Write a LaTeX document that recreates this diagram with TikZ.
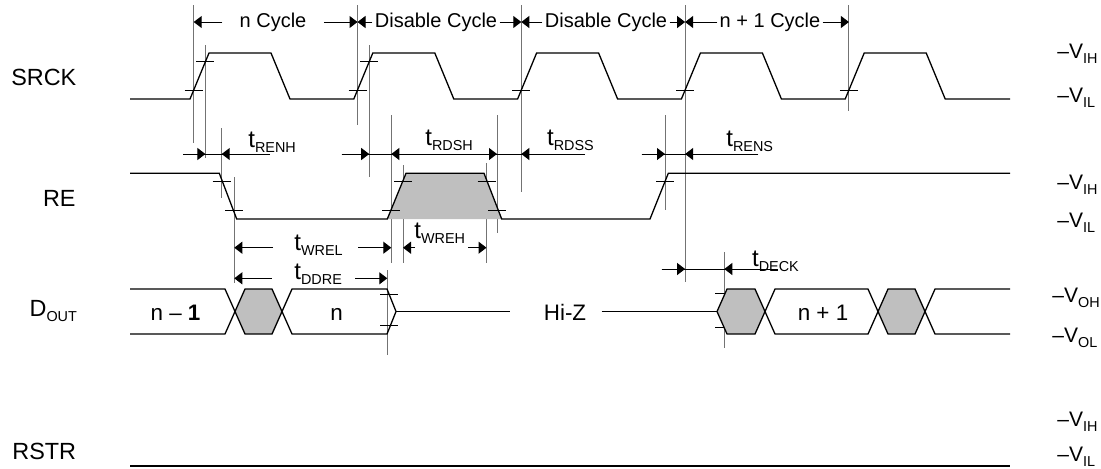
\documentclass[tikz,border=0pt]{standalone}
\usepackage{fontspec}
\setmainfont{Liberation Sans}
\usetikzlibrary{arrows.meta}
\newcommand{\lo}[1]{\raisebox{-2.5pt}{\fontsize{7.2}{8}\selectfont #1}}

\begin{document}
\begin{tikzpicture}[x=.5pt,y=-.5pt,
  wave/.style={black,line width=.65pt,line join=miter},
  guide/.style={black!55,line width=.5pt},
  tic/.style={black,line width=.5pt},
  dim/.style={black,line width=.5pt,-{Triangle[length=4pt,width=6pt]}},
  greyfill/.style={fill=black!25},
  sig/.style={font=\fontsize{11.7}{14}\selectfont,anchor=base east,inner sep=0},
  cyc/.style={font=\fontsize{10}{12}\selectfont,inner ysep=0,inner xsep=1pt},
  val/.style={font=\fontsize{11.2}{13}\selectfont,anchor=base,inner sep=0},
  tim/.style={font=\fontsize{12}{14}\selectfont,anchor=base west,inner sep=0},
  lvl/.style={font=\fontsize{10.5}{12}\selectfont,anchor=base west,inner sep=0}]
\useasboundingbox (0,0) rectangle (1101,468);

\foreach \k in {0,...,4} \coordinate (c\k) at ({193.7+163.8*\k},22);
\foreach \k/\b in {0/143,1/125,2/192,3/282,4/111}
  \draw[guide] ({193.7+163.8*\k},5) -- ({193.7+163.8*\k},\b);
\draw[guide] (205.4,45) -- (205.4,158);
\draw[guide] (369.2,45) -- (369.2,177);
\foreach \x/\a/\b in {221.7/128/198, 234.3/177/283, 391.3/115/263, 403/165/263,
  486.5/163/263, 497/115/233, 665/115/210, 387.3/270/355, 724.3/252/348}
  \draw[guide] (\x,\a) -- (\x,\b);

\node[cyc,inner xsep=8.5pt] (ncyc) at (273,22) {n Cycle};
\node[cyc] (dis1) at (436,22) {Disable Cycle};
\node[cyc] (dis2) at (606,22) {Disable Cycle};
\node[cyc] (n1cyc) at (770,22) {n + 1 Cycle};
\draw[dim] (ncyc.west) -- (c0);
\draw[dim] (ncyc.east) -- (c1);
\draw[dim] (dis1.west) -- (c1);
\draw[dim] (dis1.east) -- (c2);
\draw[dim] (dis2.west) -- (c2);
\draw[dim] (dis2.east) -- (c3);
\draw[dim] (n1cyc.west) -- (c3);
\draw[dim] (n1cyc.east) -- (c4);

\node[sig] (srck) at (76.7,85) {SRCK};
\draw[wave] (130,99) \foreach \k in {0,...,4} {-- ({190+163.8*\k},99) -- ({209+163.8*\k},53)
  -- ({271+163.8*\k},53) -- ({290+163.8*\k},99)} -- (1010,99);
\foreach \k in {0,...,4} \draw[tic] ({184.7+163.8*\k},90) -- +(18,0);
\foreach \k in {0,1} \draw[tic] ({196.4+163.8*\k},61.7) -- +(18,0);

\node[sig] (re) at (76,206.7) {RE};
\fill[greyfill] (387.3,219) -- (406,173.3) -- (484,173.3) -- (501.7,219) -- cycle;
\draw[wave] (130,173.3) -- (219.3,173.3) -- (236.7,219) -- (387.3,219) -- (406,173.3)
  -- (484,173.3) -- (501.7,219) -- (650,219) -- (668.3,173.3) -- (1010,173.3);
\foreach \x/\y in {221.7/181.7, 234.3/210, 391.3/210, 403/181.7, 486.5/181.7,
  497/210, 665/181.7, 389/294, 389/325.7, 724/293.3, 724/327.3}
  \draw[tic] ({\x-9},\y) -- +(18,0);

\draw[tic] (183,154) -- (270,154);
\draw[dim] (183,154) -- (205.4,154);
\draw[dim] (270,154) -- (221.7,154);
\draw[tic] (341.7,154) -- (585,154);
\draw[dim] (341.7,154) -- (369.2,154);
\draw[dim] (440,154) -- (391.3,154);
\draw[dim] (440,154) -- (497,154);
\draw[dim] (585,154) -- (521.3,154);
\draw[tic] (641.7,154) -- (758.3,154);
\draw[dim] (641.7,154) -- (665,154);
\draw[dim] (758.3,154) -- (685.1,154);
\draw[dim] (273,247.7) -- (234.3,247.7);
\draw[dim] (358,247.7) -- (391.3,247.7);
\draw[dim] (415,247.7) -- (403,247.7);
\draw[dim] (468,247.7) -- (486.5,247.7);
\draw[dim] (271.7,278.3) -- (234.3,278.3);
\draw[dim] (355,278.3) -- (387.3,278.3);
\draw[tic] (661.7,269) -- (778,269);
\draw[dim] (661.7,269) -- (685.1,269);
\draw[dim] (778,269) -- (724.3,269);

\node[tim] (trenh) at (248,147) {t\lo{RENH}};
\node[tim] (trdsh) at (425,145) {t\lo{RDSH}};
\node[tim] (trdss) at (546.7,145) {t\lo{RDSS}};
\node[tim] (trens) at (726,146) {t\lo{RENS}};
\node[tim] (twrel) at (294,250) {t\lo{WREL}};
\node[tim] (twreh) at (414,238) {t\lo{WREH}};
\node[tim] (tddre) at (294,279.5) {t\lo{DDRE}};
\node[tim] (tdeck) at (751.7,266.7) {t\lo{DECK}};

\node[sig] (dout) at (77.3,316.7) {D\lo{OUT}};
\foreach \a/\b/\c/\d in {235/245/272/282, 717/727/755/765, 878/888/915/925}
  \fill[greyfill] (\a,311.5) -- (\b,289) -- (\c,289) -- (\d,311.5) -- (\c,334) -- (\b,334) -- cycle;
\draw[wave] (130,289) -- (225,289) -- (245,334) -- (272,334) -- (292,289) -- (387,289) -- (396,311.5);
\draw[wave] (130,334) -- (225,334) -- (245,289) -- (272,289) -- (292,334) -- (387,334) -- (396,311.5);
\draw[wave] (396,311.5) -- (510,311.5);
\draw[wave] (601.7,311.5) -- (717,311.5);
\draw[wave] (717,311.5) -- (727,289) -- (755,289) -- (775,334) -- (868,334) -- (888,289)
  -- (915,289) -- (935,334) -- (1010,334);
\draw[wave] (717,311.5) -- (727,334) -- (755,334) -- (775,289) -- (868,289) -- (888,334)
  -- (915,334) -- (935,289) -- (1010,289);
\node[val] (dnm1) at (175.5,320.5) {n – \textbf{1}};
\node[val] (dn) at (336.7,320.5) {n};
\node[val] (hiz) at (565,320.5) {Hi-Z};
\node[val] (dnp1) at (823,320.5) {n + 1};

\node[sig] (rstr) at (76.5,459) {RSTR};
\draw[wave] (130,466) -- (1010,466);

\foreach \y/\s [count=\i] in {58.5/IH, 102.5/IL, 189.5/IH, 227.5/IL, 426/IH, 461/IL}
  \node[lvl] (lv\i) at (1057,\y) {–V\lo{\s}};
\node[lvl] (voh) at (1052,302.5) {–V\lo{OH}};
\node[lvl] (vol) at (1052,342.5) {–V\lo{OL}};
\end{tikzpicture}
\end{document}
